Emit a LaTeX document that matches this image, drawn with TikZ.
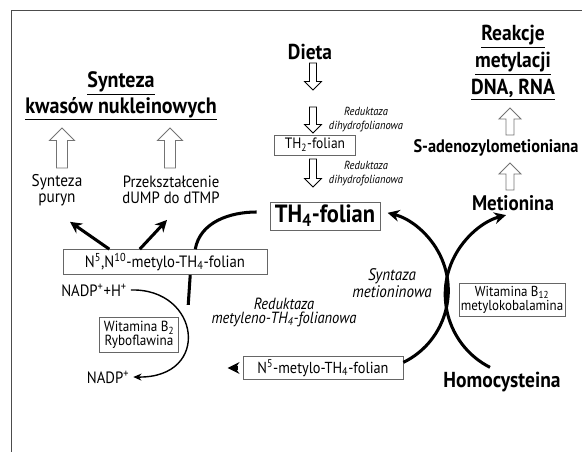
\documentclass[tikz,border=0pt]{standalone}
\usepackage{fontspec}
\setmainfont{PT Sans}[FakeStretch=0.9]
\usetikzlibrary{arrows.meta,positioning}

\newcommand{\fs}[1]{\fontsize{#1}{\dimexpr #1pt*21/20\relax}\selectfont}

\tikzset{
  frame/.style={draw=black!70, line width=0.8pt},
  box/.style={draw=black!60, line width=0.6pt, inner sep=1.5pt},
  fat/.style={line width=2.6pt, -{Stealth[length=10pt,width=10pt]}},
  fatline/.style={line width=2.6pt},
  thin arrow/.style={line width=1.2pt, -{Stealth[length=7pt,width=6pt]}},
  hollowblack/.style={draw=black, line width=0.7pt},
  hollowgray/.style={draw=black!55, line width=0.8pt, rotate=180},
  pics/hollow/.style n args={3}{code={
    \draw[pic actions] (-#3,0) -- (-#3,{#1-#2}) -- (-#2,{#1-#2}) -- (0,#1)
      -- (#2,{#1-#2}) -- (#3,{#1-#2}) -- (#3,0) -- cycle;
  }},
}

\begin{document}
\begin{tikzpicture}[x=0.03cm, y=-0.03cm]
  \useasboundingbox (0,0) rectangle (582,452);
  \draw[frame] (11,452) -- (11,10) -- (582,10);

  % folate from the diet
  \node (dieta) at (310,52) {\fs{18.4}\bfseries Dieta};
  \pic[hollowblack] (ar1) at (313,63) {hollow={27}{8.5}{3.5}};
  \pic[hollowblack] (ar2) at (313,107) {hollow={26}{8.5}{3.5}};
  \node[align=center] (red1) at (366,120) {\fs{10}\itshape Reduktaza\\\fs{10}\itshape dihydrofolianowa};
  \node[box, minimum width=2.43cm, minimum height=0.6cm] (th2) at (315,145) {\fs{12.8}TH\textsubscript{2}-folian};
  \pic[hollowblack] (ar3) at (313,159) {hollow={28}{8.5}{3.5}};
  \node[align=center] (red2) at (366,174) {\fs{10}\itshape Reduktaza\\\fs{10}\itshape dihydrofolianowa};
  \node[box, minimum width=3.3cm, minimum height=0.84cm] (th4) at (325,216) {\fs{21.3}\bfseries TH\textsubscript{4}-folian};

  % nucleic acids
  \node[align=center] (kwasy) at (121,96) {\fs{19}\bfseries\underline{Synteza}\\[1pt]\fs{19}\bfseries\underline{kwasów nukleinowych}};
  \pic[hollowgray] (ar4) at (62,168) {hollow={40}{12.5}{5.5}};
  \pic[hollowgray] (ar5) at (170,168) {hollow={40}{12.5}{5.5}};
  \node[align=center] (puryn) at (57,190) {\fs{14.5}Synteza\\[1.5pt]\fs{14.5}puryn};
  \node[align=center] (dump) at (171,190) {\fs{14}Przekształcenie\\[1.5pt]\fs{14}dUMP do dTMP};
  \node[box, minimum width=6.12cm, minimum height=0.75cm] (n510) at (165,262)
    {\fs{14}N\textsuperscript{5},N\textsuperscript{10}-metylo-TH\textsubscript{4}-folian};
  \draw[fat] (n510.167) -- ([shift={(13,12)}]puryn.south);
  \draw[fat] (n510.153) -- ([shift={(-4,12)}]dump.south);

  % NADP and riboflavin
  \node (nadph) at (94,290) {\fs{14}NADP\textsuperscript{+}+H\textsuperscript{+}};
  \node[box, align=center, minimum width=2.37cm, minimum height=1.05cm] (b2) at (139,335)
    {\fs{12.5}Witamina B\textsubscript{2}\\\fs{12.5}Ryboflawina};
  \node (nadp) at (108,377) {\fs{14}NADP\textsuperscript{+}};
  \draw[thin arrow] (nadph.east) .. controls (200,288) and (212,378) .. (nadp.east);

  % methylation cycle
  \node[box, minimum width=4.8cm, minimum height=0.69cm] (n5m) at (323,368)
    {\fs{13.6}N\textsuperscript{5}-metylo-TH\textsubscript{4}-folian};
  \node[align=center] (redm) at (284,312) {\fs{13.8}\itshape Reduktaza\\\fs{13.8}\itshape metyleno-TH\textsubscript{4}-folianowa};
  \node[align=center] (synm) at (392,283) {\fs{14.3}\itshape Syntaza\\\fs{14.3}\itshape metioninowa};
  \draw[fatline] (n510.23) .. controls (200,222) and (230,212) .. ([shift={(-13,-4)}]th4.west);
  \draw[fatline] (n510.-27) -- ([shift={(-2,30)}]n510.-27);
  \draw[fat] ([xshift=-0.15cm]n5m.west) -- ([xshift=-0.45cm]n5m.west);
  \draw[fat] (n5m.4) arc[start angle=64, end angle=-76, radius=80];

  % methionine side
  \node[anchor=base, inner sep=0pt] (homo) at (502,387) {\fs{18.5}\bfseries Homocysteina};
  \node[box, align=center, minimum width=3cm, minimum height=0.99cm] (b12) at (512,300)
    {\fs{12.3}Witamina B\textsubscript{12}\\\fs{12.3}metylokobalamina};
  \node (met) at (513,203) {\fs{18}\bfseries Metionina};
  \pic[hollowgray] (ar7) at (510,190) {hollow={27}{11}{4}};
  \node (sam) at (496,148) {\fs{15.5}\bfseries S-adenozylometioniana};
  \pic[hollowgray] (ar6) at (510,135) {hollow={27}{11}{4}};
  \node[align=center] (dna) at (513,63) {\fs{18.5}\bfseries\underline{Reakcje}\\[3pt]\fs{18.5}\bfseries\underline{metylacji}\\[3pt]\fs{18.5}\bfseries\underline{DNA, RNA}};
  \draw[fat] ([shift={(-12,-4)}]homo.north) arc[start angle=117, end angle=255, radius=82];
\end{tikzpicture}
\end{document}
